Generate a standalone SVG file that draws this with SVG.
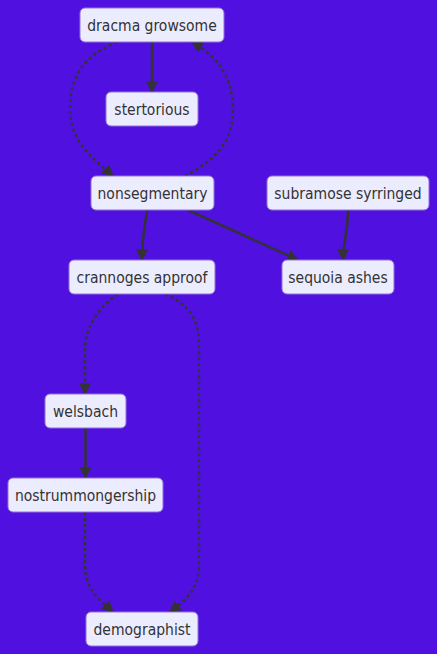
<svg xmlns="http://www.w3.org/2000/svg" width="437" height="654" viewBox="0 0 437 654">
<style>
.node rect{fill:#ECECFF;stroke:#9370DB;stroke-width:1}
.node text{font-family:"DejaVu Sans Condensed","DejaVu Sans",Verdana,sans-serif;font-stretch:condensed;font-size:15.5px;fill:#333;text-anchor:middle}
.edge{fill:none;stroke:#333;stroke-width:2.5}
.dot{stroke-dasharray:3 3}
</style>
<defs>
<marker id="arr" viewBox="0 0 10 10" refX="9" refY="5" markerUnits="userSpaceOnUse" markerWidth="12" markerHeight="12" orient="auto">
<path d="M0,0 L10,5 L0,10 z" fill="#333"/>
</marker>
</defs>
<rect width="437" height="654" fill="#5010E0"/>
<g id="edges">
<path class="edge" d="M152,42 L152,92" marker-end="url(#arr)"/>
<path class="edge dot" d="M117,42 C85,55 70,75 70,109 C70,143 95,160 113,176" marker-end="url(#arr)"/>
<path class="edge dot" d="M185,176 C215,160 233,143 233,109 C233,75 215,55 192,42" marker-end="url(#arr)"/>
<path class="edge" d="M147,210 C144,230 142,240 142,260" marker-end="url(#arr)"/>
<path class="edge" d="M188,210 L298,260" marker-end="url(#arr)"/>
<path class="edge" d="M348,210 C348,235 343,240 343,260" marker-end="url(#arr)"/>
<path class="edge dot" d="M118,294 C95,310 85,330 85,350 L85,394" marker-end="url(#arr)"/>
<path class="edge" d="M85.5,428 L85.5,478" marker-end="url(#arr)"/>
<path class="edge dot" d="M85,512 L85,565 C85,590 100,600 113,612" marker-end="url(#arr)"/>
<path class="edge dot" d="M165,294 C190,305 199,320 199,345 L199,565 C199,590 185,600 170,612" marker-end="url(#arr)"/>
</g>
<g id="dracma" class="node"><rect x="80" y="8" width="144" height="34" rx="5"/><text x="152" y="30.5">dracma growsome</text></g>
<g id="stertorious" class="node"><rect x="106" y="92" width="92" height="34" rx="5"/><text x="152" y="114.5">stertorious</text></g>
<g id="nonsegmentary" class="node"><rect x="91" y="176" width="123" height="34" rx="5"/><text x="152.5" y="198.5">nonsegmentary</text></g>
<g id="subramose" class="node"><rect x="267" y="176" width="162" height="34" rx="5"/><text x="348" y="198.5">subramose syrringed</text></g>
<g id="crannoges" class="node"><rect x="69" y="260" width="146" height="34" rx="5"/><text x="142" y="282.5">crannoges approof</text></g>
<g id="sequoia" class="node"><rect x="282" y="260" width="112" height="34" rx="5"/><text x="338" y="282.5">sequoia ashes</text></g>
<g id="welsbach" class="node"><rect x="45" y="394" width="81" height="34" rx="5"/><text x="85.5" y="416.5">welsbach</text></g>
<g id="nostrum" class="node"><rect x="8" y="478" width="155" height="34" rx="5"/><text x="85.5" y="500.5">nostrummongership</text></g>
<g id="demographist" class="node"><rect x="86" y="612" width="112" height="34" rx="5"/><text x="142" y="634.5">demographist</text></g>
</svg>
